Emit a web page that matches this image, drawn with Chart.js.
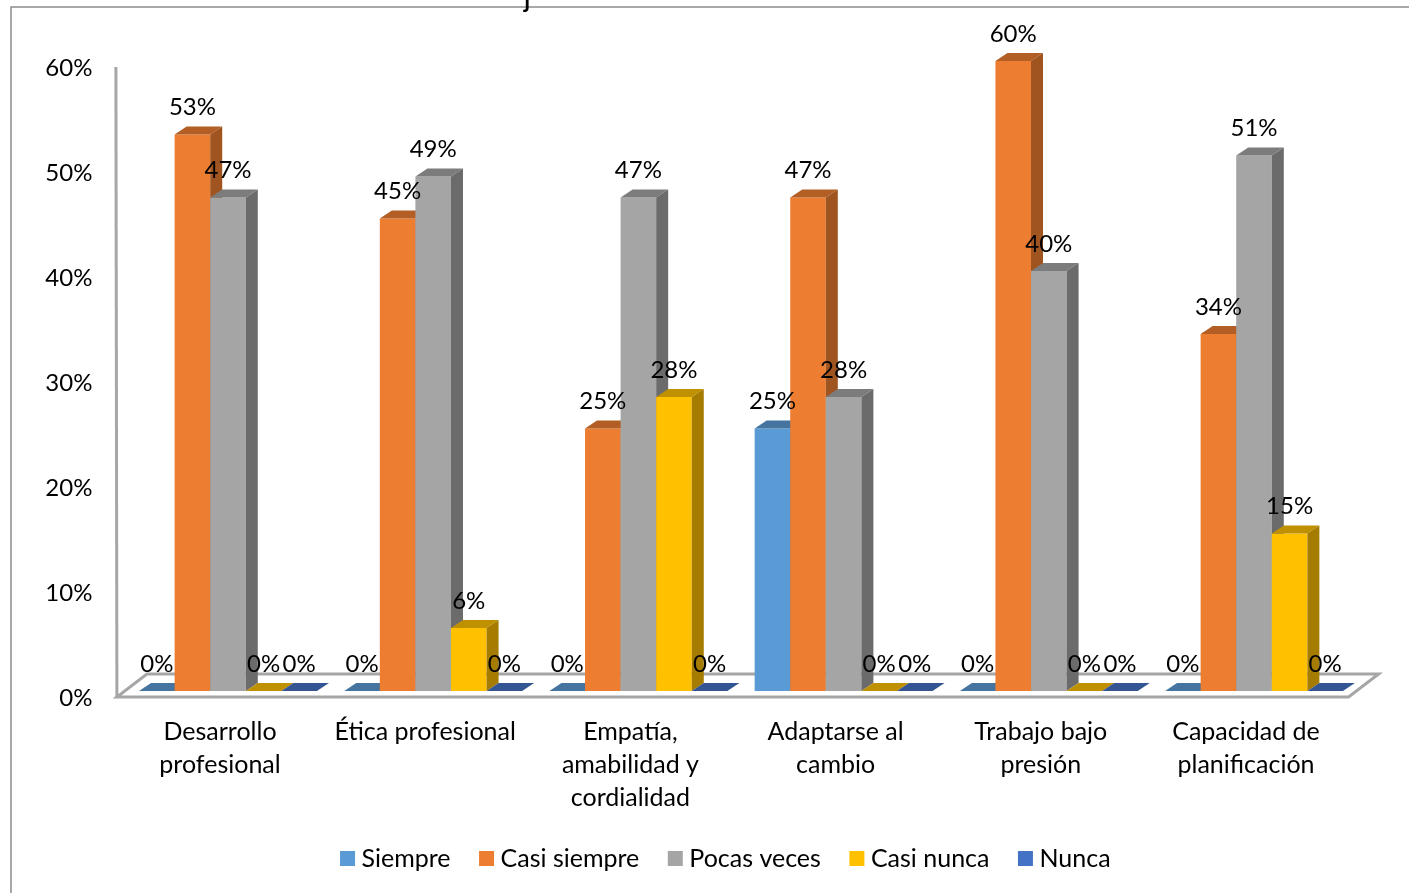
<!DOCTYPE html>
<html lang="es">
<head>
<meta charset="utf-8">
<title>Frecuencia por competencia</title>
<script src="https://cdn.jsdelivr.net/npm/chart.js@4/dist/chart.umd.min.js"></script>
<style>
  html, body { margin: 0; padding: 0; background: #fff; }
  canvas { display: block; }
</style>
</head>
<body>
<canvas id="chart" width="1409" height="893"></canvas>
<script>
const categories = [
  ['Desarrollo', 'profesional'],
  'Ética profesional',
  ['Empatía,', 'amabilidad y', 'cordialidad'],
  ['Adaptarse al', 'cambio'],
  ['Trabajo bajo', 'presión'],
  ['Capacidad de', 'planificación']
];
const seriesNames = ['Siempre', 'Casi siempre', 'Pocas veces', 'Casi nunca', 'Nunca'];
const siempre     = [0, 0, 0, 25, 0, 0];
const casiSiempre = [53, 45, 25, 47, 60, 34];
const pocasVeces  = [47, 49, 47, 28, 40, 51];
const casiNunca   = [0, 6, 28, 0, 0, 15];
const nunca       = [0, 0, 0, 0, 0, 0];
const yTicks = [0, 10, 20, 30, 40, 50, 60];

const FRONT = ['#5B9BD5', '#ED7D31', '#A5A5A5', '#FFC000', '#4472C4'];
const TOP   = ['#44749F', '#B25E25', '#7C7C7C', '#BF9000', '#335593'];
const SIDE  = ['#3D6A91', '#A0541F', '#6B6B6B', '#A67C00', '#2C4C85'];
const AXIS = '#A6A6A6', FRAME = '#8C8C8C', INK = '#000000';
const FONT = 'Lato, sans-serif';
const DEPTH_X = 12, DEPTH_Y = 8;

function poly(ctx, pts, fill) {
  ctx.beginPath();
  pts.forEach((p, i) => i ? ctx.lineTo(p[0], p[1]) : ctx.moveTo(p[0], p[1]));
  ctx.closePath();
  ctx.fillStyle = fill;
  ctx.fill();
}

// frame of the pasted picture, the cut-off title and the 3D floor + wall line
const stage = {
  id: 'stage',
  beforeDatasetsDraw(c) {
    const { ctx, chartArea: a } = c;
    const fl = a.left - 8.5, fr = a.right - 8, fy = a.bottom + 6, by = a.bottom - 17;
    ctx.save();
    ctx.strokeStyle = FRAME; ctx.lineWidth = 1.5;
    ctx.beginPath(); ctx.moveTo(11, 893); ctx.lineTo(11, 7); ctx.lineTo(1409, 7); ctx.stroke();
    ctx.font = '600 26px ' + FONT; ctx.fillStyle = INK;
    ctx.fillText('j', 524, -1);

    ctx.strokeStyle = AXIS; ctx.lineWidth = 3; ctx.lineJoin = 'miter';
    ctx.beginPath();
    ctx.moveTo(fl, fy); ctx.lineTo(fr, fy); ctx.lineTo(fr + 30, by);
    ctx.lineTo(fl + 30, by); ctx.closePath(); ctx.stroke();
    ctx.beginPath(); ctx.moveTo(fl, fy); ctx.lineTo(fl - 1, a.top + 6); ctx.stroke();
    ctx.restore();
  },
  // Chart.js paints the first dataset last; the 3D look needs left-to-right
  beforeDatasetDraw() { return false; },
  afterDatasetsDraw(c) {
    const { ctx } = c;
    ctx.save();
    c.data.datasets.forEach((ds, i) => {
      const meta = c.getDatasetMeta(i);
      meta.controller.draw();
      meta.data.forEach(bar => {
        const l = bar.x - bar.width / 2, r = bar.x + bar.width / 2, t = bar.y, b = bar.base;
        poly(ctx, [[l, t], [r, t], [r + DEPTH_X, t - DEPTH_Y], [l + DEPTH_X, t - DEPTH_Y]], TOP[i]);
        if (b - t > 0.5) poly(ctx, [[r, t], [r + DEPTH_X, t - DEPTH_Y], [r + DEPTH_X, b - DEPTH_Y], [r, b]], SIDE[i]);
      });
    });
    ctx.font = '24px ' + FONT; ctx.fillStyle = INK;
    ctx.textAlign = 'center'; ctx.textBaseline = 'middle';
    c.data.datasets.forEach((ds, i) => {
      c.getDatasetMeta(i).data.forEach((bar, j) => {
        ctx.fillText(ds.data[j] + '%', bar.x, bar.y - 27);
      });
    });
    ctx.restore();
  },
  afterLayout(c) {
    c.legend.left += 50; c.legend.right += 50;
    c.legend.top -= 12; c.legend.bottom -= 12;
  }
};

const seriesValues = [siempre, casiSiempre, pocasVeces, casiNunca, nunca];

new Chart(document.getElementById('chart'), {
  type: 'bar',
  data: {
    labels: categories,
    datasets: seriesNames.map((name, i) => ({
      label: name,
      data: seriesValues[i],
      backgroundColor: FRONT[i],
      borderWidth: 0,
      categoryPercentage: 0.867,
      barPercentage: 1
    }))
  },
  options: {
    responsive: false, animation: false,
    layout: { padding: { top: 61, right: 52.4, left: 0, bottom: 0 } },
    plugins: {
      title: { display: false },
      tooltip: { enabled: false },
      legend: {
        position: 'bottom',
        labels: {
          usePointStyle: true, pointStyle: 'rect', boxWidth: 3, boxHeight: 15,
          padding: 34.5, color: INK, font: { family: FONT, size: 25 }
        }
      }
    },
    scales: {
      x: {
        grid: { display: false }, border: { display: false },
        afterFit(s) { s.height = 132.5; },
        ticks: {
          color: INK, padding: 16, labelOffset: -8, maxRotation: 0, autoSkip: false,
          font: { family: FONT, size: 25, lineHeight: 1.32 }
        }
      },
      y: {
        min: 0, max: 60,
        grid: { display: false }, border: { display: false },
        afterFit(s) { s.width = 125.4; },
        afterBuildTicks(s) { s.ticks = yTicks.map(v => ({ value: v })); },
        ticks: {
          color: INK, padding: 25, labelOffset: 7.5,
          font: { family: FONT, size: 24 },
          callback: v => v + '%'
        }
      }
    }
  },
  plugins: [stage]
});
</script>
</body>
</html>
